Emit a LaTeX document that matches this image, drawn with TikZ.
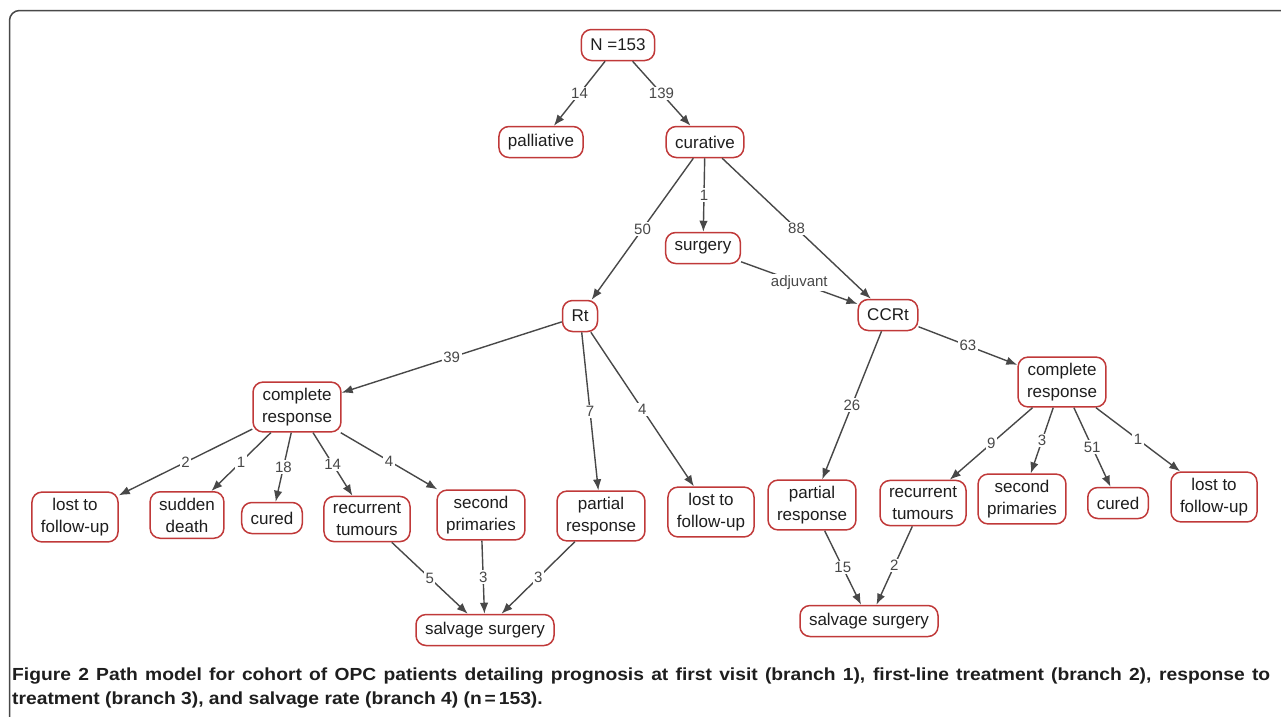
\documentclass[tikz,border=0pt]{standalone}
\usepackage{fontspec}
\setmainfont{Liberation Sans}
\newfontfamily\capfont[FakeStretch=1.1]{Liberation Sans}
\usetikzlibrary{arrows.meta}
\definecolor{boxred}{RGB}{192,57,57}
\definecolor{linegray}{RGB}{72,72,72}
\definecolor{txtgray}{RGB}{30,30,30}
\tikzset{
	stage/.style={draw=boxred, line width=1.5pt, rounded corners=10pt, fill=white, align=center, inner xsep=9pt, inner ysep=6pt, minimum height=31pt, text=txtgray, font=\fontsize{17}{22}\selectfont},
	flow/.style={draw=linegray, line width=1.4pt, -{Latex[length=11pt,width=8.5pt]}},
	nlabel/.style={midway, fill=white, inner sep=1.5pt, text=linegray, font=\fontsize{15}{15}\selectfont}
}
\begin{document}
\begin{tikzpicture}[x=1pt, y=-1pt]
	\useasboundingbox (0,0) rectangle (1281,716);
	\draw[line width=1.5pt, draw=linegray, rounded corners=10pt] (9.5,740) -- (9.5,10.5) -- (1300,10.5);

		% first visit and first-line treatment
		\node[stage] (N) at (618,45) {N =153};
		\node[stage] (pall) at (541,142) {palliative};
		\node[stage] (cur) at (705,142) {curative};
		\node[stage] (surg) at (703,248) {surgery};
		\node[stage] (Rt) at (580,316) {Rt};
		\node[stage] (CCRt) at (888,315) {CCRt};

		% response after Rt
		\node[stage] (crL) at (297,407) {complete\\response};
		\node[stage] (lostL) at (75,517) {lost to\\follow-up};
		\node[stage] (death) at (187,515) {sudden\\death};
		\node[stage] (curedL) at (272,518) {cured};
		\node[stage] (recL) at (367,519) {recurrent\\tumours};
		\node[stage] (secL) at (481,515) {second\\primaries};
		\node[stage] (partL) at (601,516) {partial\\response};
		\node[stage] (lostM) at (711,512) {lost to\\follow-up};
		\node[stage] (salvL) at (485,630) {salvage surgery};

		% response after CCRt
		\node[stage] (crR) at (1062,382) {complete\\response};
		\node[stage] (partR) at (812,505) {partial\\response};
		\node[stage] (recR) at (923,503) {recurrent\\tumours};
		\node[stage] (secR) at (1022,499) {second\\primaries};
		\node[stage] (curedR) at (1118,503) {cured};
		\node[stage] (lostR) at (1214,497) {lost to\\follow-up};
		\node[stage] (salvR) at (869,621) {salvage surgery};

		\draw (N) edge[flow] node[nlabel] {14} (pall);
		\draw (N) edge[flow] node[nlabel] {139} (cur);
		\draw (cur) edge[flow] node[nlabel] {50} (Rt);
		\draw (cur) edge[flow] node[nlabel] {1} (surg);
		\draw (cur) edge[flow] node[nlabel] {88} (CCRt);
		\draw (surg) edge[flow] node[nlabel] {adjuvant} (CCRt);

		\draw (Rt) edge[flow] node[nlabel] {39} (crL);
		\draw (Rt) edge[flow] node[nlabel] {7} (partL);
		\draw (Rt) edge[flow] node[nlabel] {4} (lostM);
		\draw (CCRt) edge[flow] node[nlabel] {26} (partR);
		\draw (CCRt) edge[flow] node[nlabel] {63} (crR);

		\draw (crL) edge[flow] node[nlabel] {2} (lostL);
		\draw (crL) edge[flow] node[nlabel] {1} (death);
		\draw (crL) edge[flow] node[nlabel] {18} (curedL);
		\draw (crL) edge[flow] node[nlabel] {14} (recL);
		\draw (crL) edge[flow] node[nlabel] {4} (secL);

		\draw (crR) edge[flow] node[nlabel] {9} (recR);
		\draw (crR) edge[flow] node[nlabel] {3} (secR);
		\draw (crR) edge[flow] node[nlabel] {51} (curedR);
		\draw (crR) edge[flow] node[nlabel] {1} (lostR);

		% salvage rate
		\draw (recL) edge[flow] node[nlabel] {5} (salvL);
		\draw (secL) edge[flow] node[nlabel] {3} (salvL);
		\draw (partL) edge[flow] node[nlabel] {3} (salvL);
		\draw (partR) edge[flow] node[nlabel] {15} (salvR);
		\draw (recR) edge[flow] node[nlabel] {2} (salvR);

	\node[anchor=north west, inner sep=0pt, text width=1258pt, align=justify, text=txtgray, font=\capfont\bfseries\fontsize{17.5}{24}\selectfont] (caption) at (12,668) {Figure 2 Path model for cohort of OPC patients detailing prognosis at first visit (branch 1), first-line treatment (branch 2), response to\linebreak treatment (branch 3), and salvage rate (branch 4) (n\,=\,153).};
\end{tikzpicture}
\end{document}
